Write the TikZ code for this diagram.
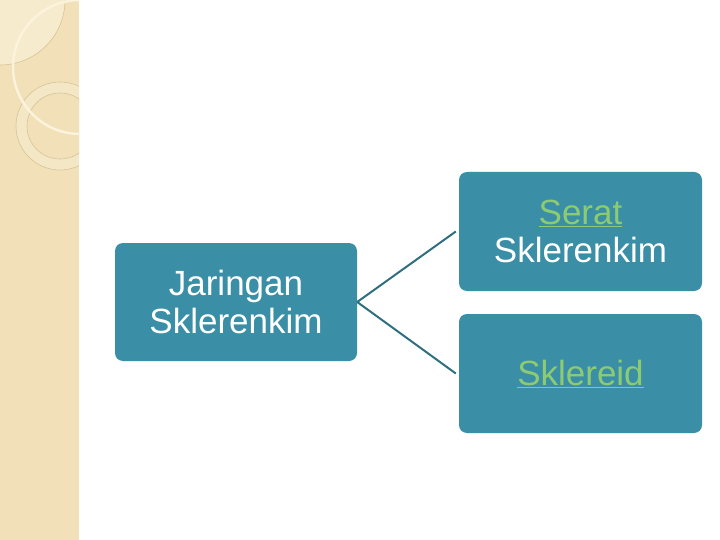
\documentclass[tikz,border=0pt]{standalone}
\usepackage{fontspec}
\setmainfont{Liberation Sans}
\definecolor{strip}{HTML}{F1E0B8}
\definecolor{stripline}{HTML}{D8C397}
\definecolor{cream}{HTML}{FBF3DC}
\definecolor{boxfill}{HTML}{3A8EA6}
\definecolor{linkline}{HTML}{2F6F80}
\definecolor{linkgreen}{HTML}{8DCB72}
\tikzset{
  box/.style={draw=none, fill=boxfill, rounded corners=8pt, minimum width=242pt, minimum height=118pt,
    text=white, align=center, font=\fontsize{35}{38}\selectfont},
  link/.style={draw=linkline, line width=2pt}
}
\newcommand{\hyper}[1]{{\color{linkgreen}\underline{#1}}}
\begin{document}
\begin{tikzpicture}[x=1pt,y=-1pt]
  \useasboundingbox (0,0) rectangle (720,540);
  \fill [white] (0,0) rectangle (720,540);
  % left strip
  \fill [strip] (0,0) rectangle (79,540);
  \begin{scope}
    \clip (0,0) rectangle (79,540);
    \draw [stripline, fill=cream!60!strip, line width=0.6pt] (0,0) circle [radius=65];
    \draw [stripline, fill=cream!35!strip, line width=0.6pt] (60,126) circle [radius=44];
    \draw [stripline, fill=strip, line width=0.6pt] (60,126) circle [radius=33];
    \draw [cream, line width=2.5pt] (80,67) circle [radius=67];
  \end{scope}
  % boxes
  \node [box] (jaringan) at (236,302) {Jaringan\\Sklerenkim};
  \node [box, minimum width=243pt, minimum height=119pt] (serat) at (580.5,231.5) {\hyper{Serat}\\Sklerenkim};
  \node [box, minimum width=243pt, minimum height=119pt] (sklereid) at (580.5,373.5) {\hyper{Sklereid}};
  % connectors
  \draw [link] (jaringan.east) -- ([xshift=-3pt]serat.west);
  \draw [link] (jaringan.east) -- ([xshift=-3pt]sklereid.west);
\end{tikzpicture}
\end{document}
